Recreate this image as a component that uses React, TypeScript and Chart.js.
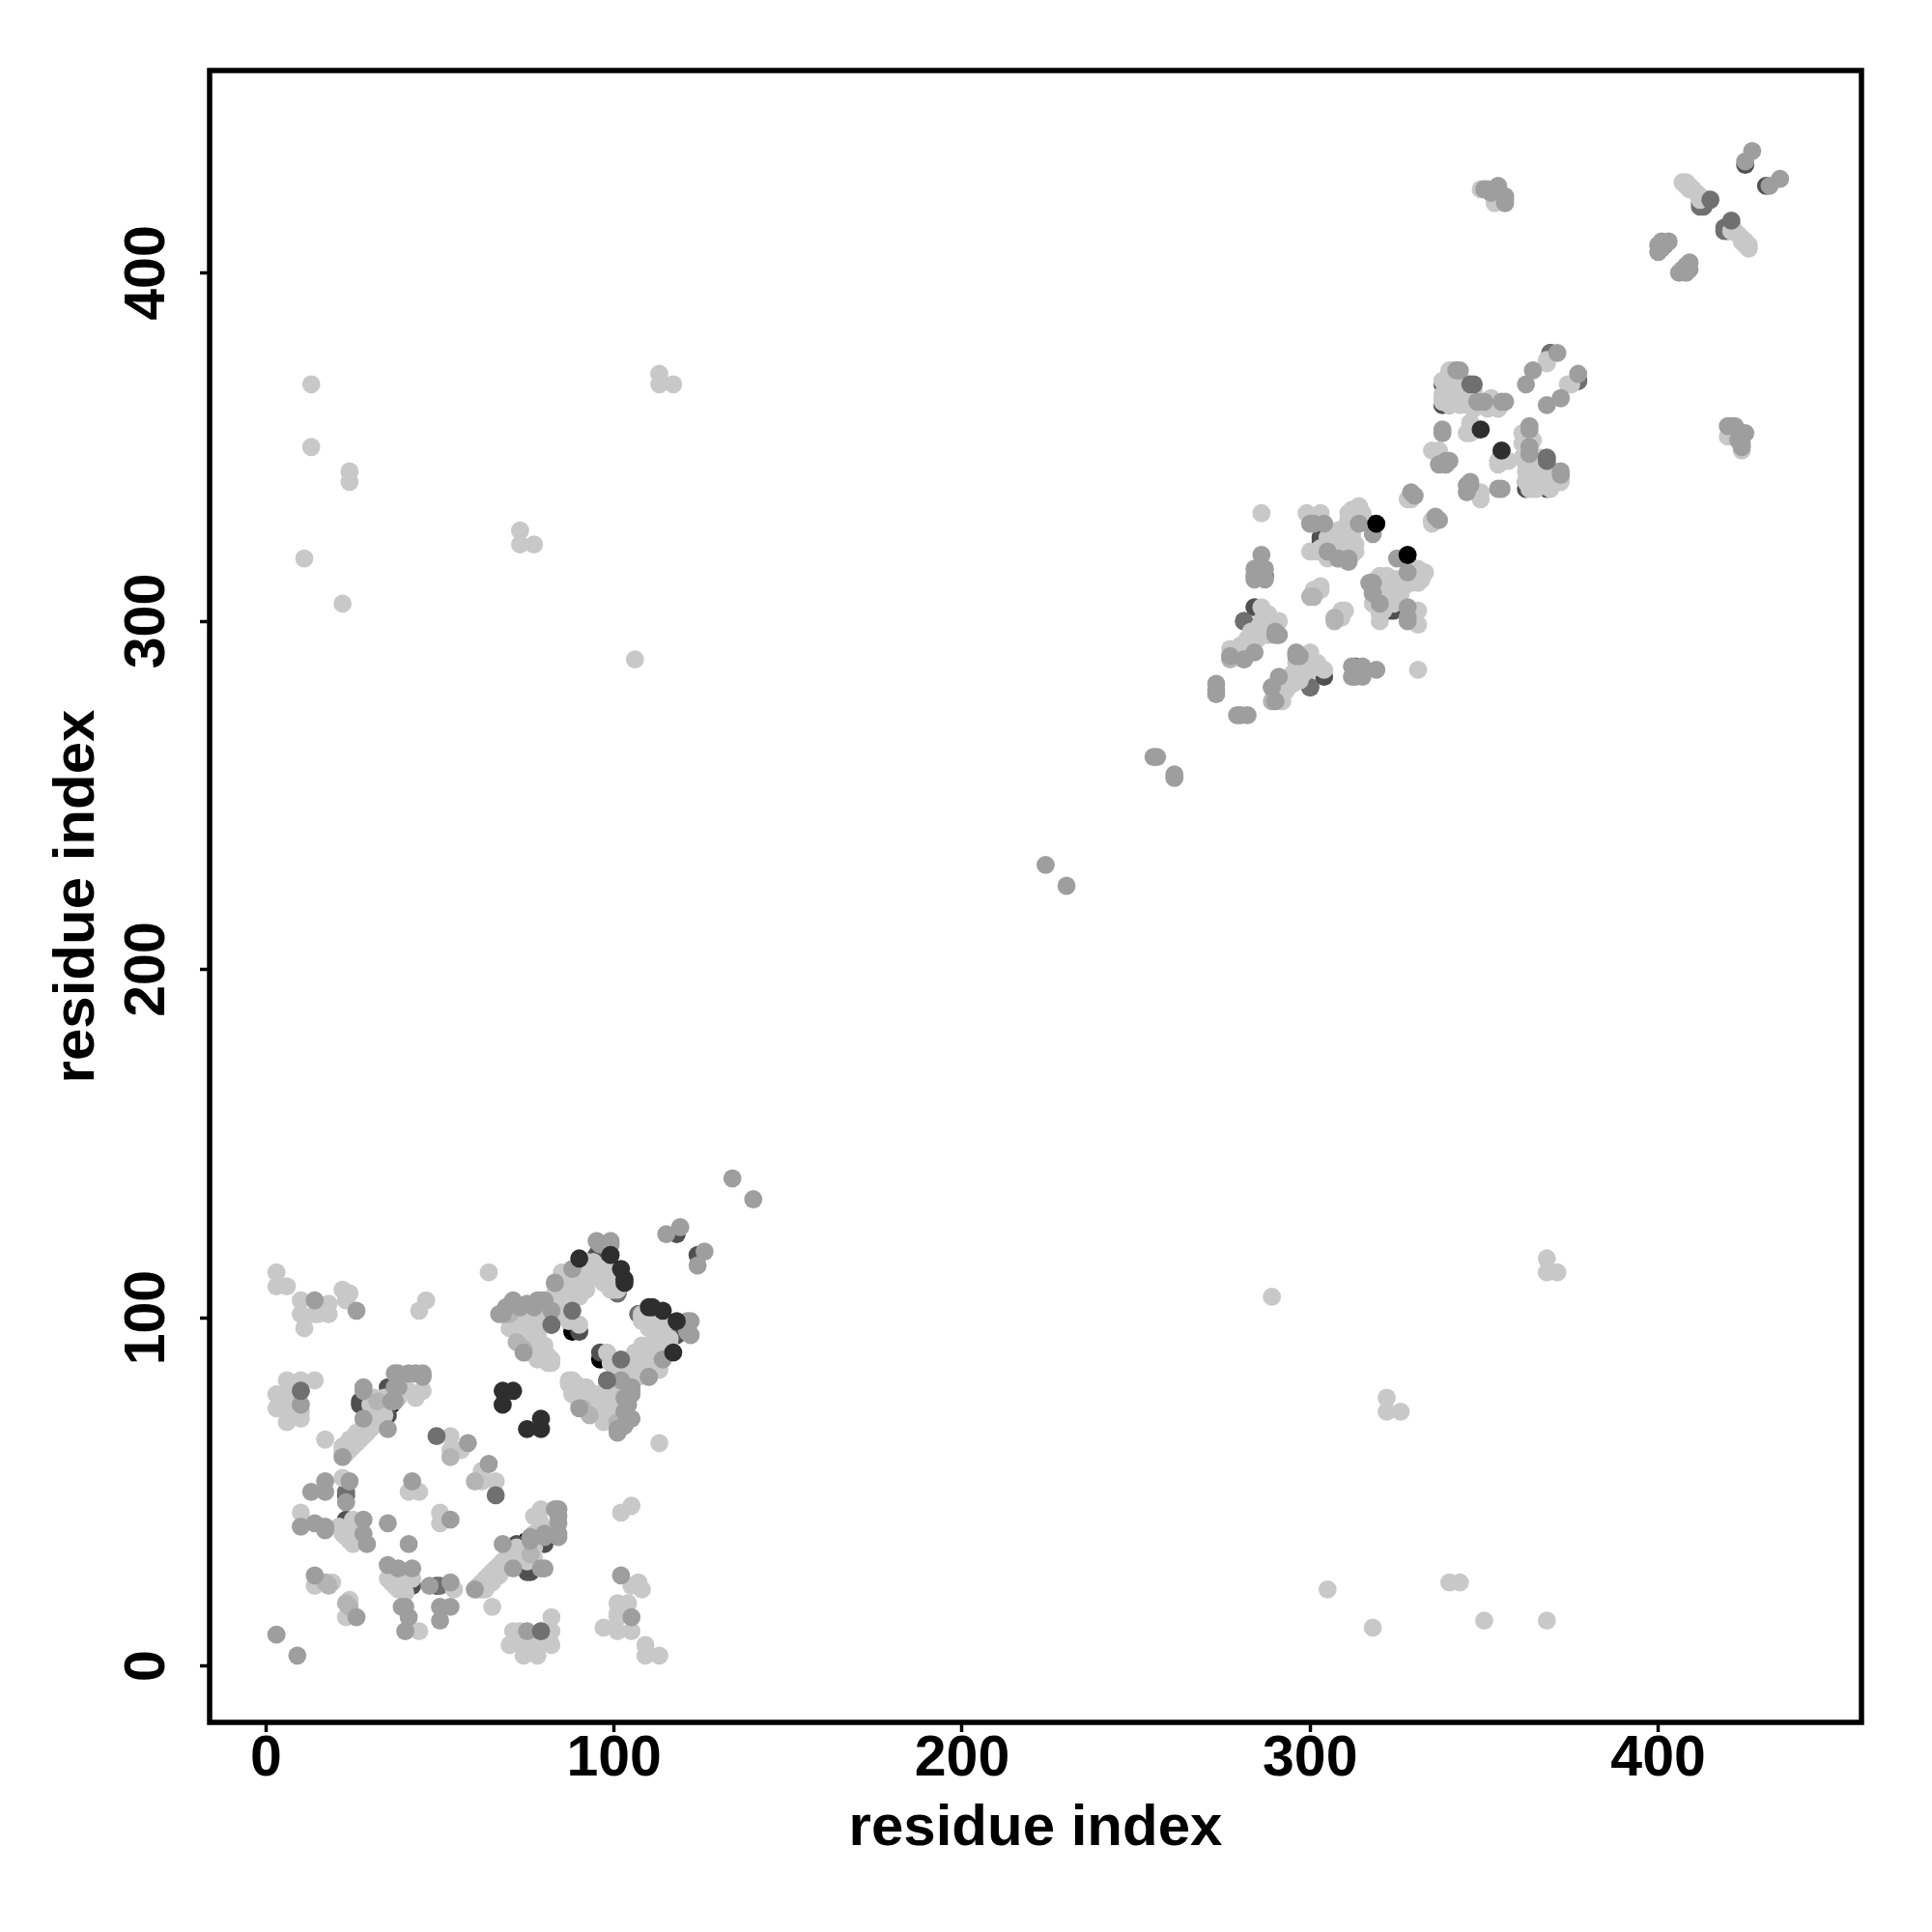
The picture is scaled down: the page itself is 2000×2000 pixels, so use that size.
import React, { useEffect, useRef } from "react";
import { Chart, registerables } from "chart.js";

Chart.register(...registerables);

type Pair = [number, number];

const blackUnderContacts: Pair[] = [[36,75],[88,98],[96,88],[114,98]];
const darkContacts: Pair[] = [
  [35,80],[27,76],[35,72],[23,49],[23,42],[80,35],[75,27],[72,35],[90,111],[82,98],[107,101],[117,96],[95,118],[96,90],[99,115],[124,118],[118,124],
  [303,323],[284,304],[300,281],[304,284],[338,362],[338,368],[355,348],[370,340],[362,340],[377,369],[425,431],[431,425],[298,287],
  [288,300],[324,303],[345,368],
];
const darkMidContacts: Pair[] = [
  [23,50],[78,94],[94,78],[112,90],[101,107],[97,72],
  [317,328],[309,324],[287,313],[369,377],[412,420],[419,412],[413,419],[421,414],[281,300],[320,303],[324,308],
];
const lightContacts: Pair[] = [
  [3,113],[3,109],[6,109],[10,105],[10,101],[14,101],[11,97],[18,104],[18,101],[15,101],[22,108],[24,107],[23,105],[44,102],[46,105],[64,113],
  [6,82],[10,82],[14,82],[3,78],[3,74],[6,70],[10,71],[6,78],[6,74],[8,76],[10,73],
  [22,61],[23,62],[24,63],[25,64],[26,65],[27,66],[28,67],[29,68],[30,69],[31,70],[32,71],[33,73],[31,73],[30,75],[31,77],
  [22,62],[23,63],[24,64],[25,65],[26,66],[27,67],[28,68],[29,69],[30,70],[31,71],[32,72],
  [23,61],[24,62],[25,63],[26,64],[27,65],[28,66],[29,67],[30,68],[31,69],[32,70],[33,71],[34,72],[33,75],
  [22,63],[24,65],[26,67],[28,69],[30,71],[32,74],[34,77],
  [41,79],[45,79],[38,77],[17,65],[53,66],[53,62],[56,62],
  [22,54],[41,50],[44,50],[10,44],[23,39],[24,36],[26,38],[25,42],[14,23],[19,24],[23,14],[44,10],[65,17],[54,22],
  [21,40],[22,38],[24,38],[25,36],[27,37],
  [79,45],[79,41],[77,43],[25,35],[23,37],[28,36],[25,40],
  [70,97],[74,97],[74,101],[78,97],[78,95],[78,88],[81,89],[81,87],[78,100],[83,104],[83,101],[90,114],[88,109],[95,114],[101,108],[97,110],[109,99],[114,96],[114,97],[113,96],[113,90],[110,89],[107,88],[107,83],[98,90],[102,85],[97,70],[101,71],[101,78],[101,74],[97,74],[93,73],[88,82],[88,78],[90,98],[87,82],[94,75],[98,76],[104,85],[99,87],
  [72,99],[76,97],[76,93],[74,94],[76,100],[80,92],[78,91],[80,98],[72,96],[83,107],[85,104],[75,90],
  [92,113],[94,116],[97,112],[100,110],[99,108],[98,113],[100,113],[92,110],[85,110],[86,106],[85,113],
  [108,100],[111,98],[112,95],[110,97],[115,93],[116,92],[108,92],[109,86],[104,87],[112,87],[106,90],
  [299,331],[303,331],[286,331],[314,333],[312,332],[311,329],[315,329],[312,325],[312,328],[305,324],[302,320],[308,318],[333,314],[332,312],[325,311],[321,307],[320,300],[323,306],[331,303],[331,299],[303,310],[301,309],[309,303],[300,291],[304,286],[300,286],[292,279],[295,282],[286,304],[291,300],[286,300],[283,297],[279,292],[277,292],[328,335],[335,329],[335,349],[337,349],[349,337],[349,335],[340,371],[339,365],[353,362],[347,361],[342,363],[346,356],[345,354],[357,346],[354,346],[361,354],[364,347],[365,338],[367,340],[372,340],[368,375],[374,368],
  [290,281],[291,279],[293,280],[294,283],[296,285],[298,285],[297,283],[292,282],[286,298],[288,296],[283,293],[285,295],[281,291],[282,294],[288,302],[287,298],
  [311,322],[306,321],[307,323],[303,321],[309,321],[313,320],[308,326],[310,327],[305,318],[312,322],[313,330],[315,331],[311,331],
  [320,306],[322,309],[322,313],[323,310],[319,312],[321,304],[324,312],[326,309],[324,305],[318,309],
  [340,362],[340,364],[340,366],[341,368],[342,370],[341,372],[343,366],[344,364],[345,362],[346,364],[347,366],[348,363],[351,361],[352,364],[354,361],[343,370],
  [363,340],[364,342],[365,344],[366,342],[368,342],[369,338],[363,338],[362,343],[371,341],[366,339],[368,344],[364,340],[364,338],[369,341],
  [349,424],[353,420],[407,426],[408,425],[409,424],[410,424],[411,423],[412,422],[421,412],[422,412],[423,411],[424,410],[424,409],[425,409],[426,408],[424,350],[423,353],
  [13,368],[13,350],[24,343],[24,340],[11,318],[22,305],[113,371],[113,368],[117,368],[73,326],[73,322],[77,322],[106,289],
];
const midLightContacts: Pair[] = [
  [53,60],[23,18],[17,24],[74,91],[72,93],[83,110],[70,101],[289,277],[281,289],[300,307],[307,301],[32,76],
];
const midContacts: Pair[] = [
  [3,9],[14,105],[26,102],[10,75],[10,79],[28,80],[28,71],[35,68],[37,76],[37,80],[37,84],[41,84],[43,84],[45,83],[58,64],[13,50],[17,50],[17,53],[24,53],[42,53],[10,40],[14,41],[17,40],[28,42],[29,35],[28,38],[35,41],[14,26],[39,17],[41,14],[40,10],[50,17],[53,17],[50,13],[47,23],[79,28],[76,36],[68,35],[80,38],[84,45],[84,41],[84,38],[67,101],[71,105],[75,104],[78,105],[73,103],[77,103],[80,105],[69,103],[88,114],[95,122],[99,122],[115,124],[119,126],[124,115],[126,119],[121,99],[121,96],[114,88],[110,83],[102,82],[105,79],[104,75],[105,71],[101,68],[90,74],[22,60],[134,140],[224,230],[255,261],[256,261],
  [273,282],[273,279],[273,280],[300,328],[304,328],[318,325],[305,320],[311,318],[311,317],[286,319],[284,315],[287,315],[284,313],[291,296],[277,290],[284,291],[318,311],[318,308],[328,314],[328,304],[328,301],[297,290],[296,290],[289,281],[312,287],[312,284],[315,287],[315,284],[319,286],[325,318],[330,336],[337,329],[338,354],[339,346],[337,345],[346,340],[345,339],[355,338],[343,372],[350,363],[356,363],[363,355],[363,348],[372,342],[362,368],[364,372],[371,377],[368,362],[372,364],[377,371],
  [350,424],[354,425],[356,420],[352,423],[356,422],[402,408],[400,408],[400,406],[403,409],[407,401],[409,403],[409,401],[427,435],[425,432],[435,427],[432,425],[420,356],[421,356],[425,354],[424,351],
];
const darkMidTopContacts: Pair[] = [
  [102,88],[88,102],[98,82],[347,368],[368,346],[415,421],[49,66],[79,10],
];
const veryDarkContacts: Pair[] = [
  [68,79],[71,79],[68,75],[90,117],[99,118],[102,114],[103,111],[110,103],[114,102],[118,99],[117,90],[349,355],
];
const blackTopContacts: Pair[] = [[319,328]];

const shadeGroups: [Pair[], string][] = [
  [blackUnderContacts, "#000000"],
  [darkContacts, "#505050"],
  [darkMidContacts, "#707070"],
  [lightContacts, "#C8C8C8"],
  [midLightContacts, "#B4B4B4"],
  [midContacts, "#9E9E9E"],
  [darkMidTopContacts, "#707070"],
  [veryDarkContacts, "#2E2E2E"],
  [blackTopContacts, "#000000"],
];

const axisTitle = "residue index";
const FONT = "'Liberation Sans', Arial, sans-serif";

function mirrored(pairs: Pair[]) {
  const seen = new Set<string>();
  const out: { x: number; y: number }[] = [];
  for (const [a, b] of pairs) {
    for (const [x, y] of [[a, b], [b, a]]) {
      const k = x + ":" + y;
      if (!seen.has(k)) {
        seen.add(k);
        out.push({ x, y });
      }
    }
  }
  return out;
}

const boxPlugin = {
  id: "plotBox",
  afterDraw(chart: any) {
    const { ctx, chartArea: a } = chart;
    ctx.save();
    ctx.strokeStyle = "#000";
    ctx.lineWidth = 5.5;
    ctx.strokeRect(a.left, a.top, a.right - a.left, a.bottom - a.top);
    ctx.restore();
  },
};

export default function App() {
  const ref = useRef<HTMLCanvasElement>(null);
  useEffect(() => {
    const chart = new Chart(ref.current!, {
      type: "scatter",
      data: {
        // Chart.js paints the first dataset last, so `order` keeps the groups' listed stacking.
        datasets: shadeGroups.map(([pairs, color], i) => ({
          data: mirrored(pairs),
          backgroundColor: color,
          borderWidth: 0,
          pointRadius: 9.4,
          pointHoverRadius: 9.4,
          order: shadeGroups.length - i,
        })),
      },
      options: {
        animation: false,
        responsive: false,
        devicePixelRatio: 1,
        layout: { padding: { top: 73, right: 73, left: 0, bottom: 0 } },
        plugins: { legend: { display: false }, tooltip: { enabled: false } },
        scales: {
          x: {
            type: "linear",
            min: -16.2,
            max: 458.4,
            afterFit(s: any) { s.height = 217; },
            grid: { drawOnChartArea: false, drawTicks: true, tickLength: 10, tickWidth: 3.5, tickColor: "#000" },
            border: { display: false },
            ticks: {
              stepSize: 100,
              includeBounds: false,
              maxRotation: 0,
              minRotation: 0,
              color: "#000",
              padding: -7,
              font: { family: FONT, size: 59, weight: "bold" },
            },
            title: {
              display: true,
              text: axisTitle,
              color: "#000",
              padding: { top: 0, bottom: 71 },
              font: { family: FONT, size: 60, weight: "bold" },
            },
          },
          y: {
            type: "linear",
            min: -16.2,
            max: 458.1,
            afterFit(s: any) { s.width = 217; },
            grid: { drawOnChartArea: false, drawTicks: true, tickLength: 10, tickWidth: 3.5, tickColor: "#000" },
            border: { display: false },
            ticks: {
              stepSize: 100,
              includeBounds: false,
              minRotation: 90,
              maxRotation: 90,
              crossAlign: "center",
              color: "#000",
              padding: 4,
              font: { family: FONT, size: 59, weight: "bold" },
            },
            title: {
              display: true,
              text: axisTitle,
              color: "#000",
              padding: { top: 44, bottom: 0 },
              font: { family: FONT, size: 60, weight: "bold" },
            },
          },
        },
      } as any,
      plugins: [boxPlugin],
    });
    return () => chart.destroy();
  }, []);
  return (
    <canvas
      ref={ref}
      width={2000}
      height={2000}
      style={{ position: "absolute", left: 0, top: 0, display: "block", background: "#fff" }}
    />
  );
}
